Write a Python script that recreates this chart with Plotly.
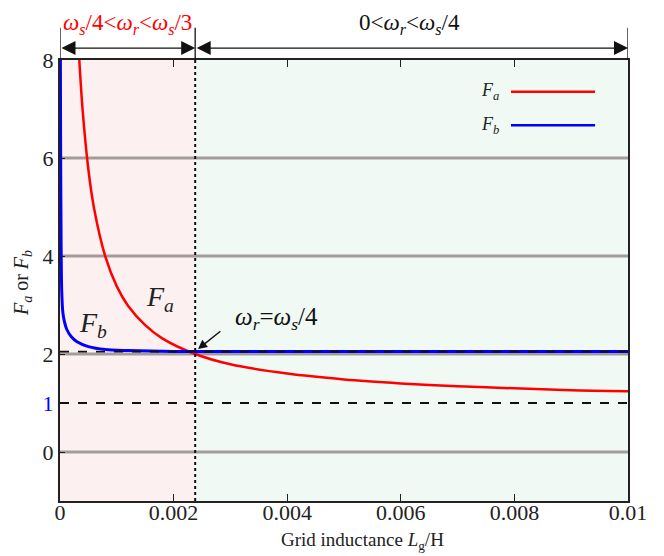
import plotly.graph_objects as go

# ---- data ----
L_a = [0.00033, 0.00035, 0.0004, 0.0005, 0.0006, 0.0008, 0.001, 0.0012, 0.0015, 0.0018,
       0.00238, 0.003, 0.004, 0.005, 0.006, 0.007, 0.008, 0.009, 0.01]
F_a = [8.2, 7.8, 6.95, 5.76, 4.97, 3.98, 3.38, 2.98, 2.59, 2.32,
       2.0, 1.79, 1.6, 1.48, 1.40, 1.34, 1.30, 1.26, 1.24]

L_b = [0.000005, 0.00001, 0.00002, 0.00003, 0.00005, 0.00008, 0.00012, 0.0002, 0.0003,
       0.0005, 0.0008, 0.0012, 0.002, 0.004, 0.01]
F_b = [9.0, 6.5, 4.2, 3.3, 2.85, 2.65, 2.5, 2.35, 2.25, 2.15, 2.09, 2.07, 2.05, 2.05, 2.05]

x_ticks = [0, 0.002, 0.004, 0.006, 0.008, 0.01]
x_ticklabels = ["0", "0.002", "0.004", "0.006", "0.008", "0.01"]
y_ticks = [0, 1, 2, 4, 6, 8]
y_ticklabels = ["0", "<span style='color:#0000ff'>1</span>", "2", "4", "6", "8"]
grid_levels = [0, 2, 4, 6]
L_boundary = 0.00238
ref_levels = [1, 2.05]
x_range = [0, 0.01]
y_range = [-1, 8]

SERIF = "Liberation Serif, Times New Roman, serif"

fig = go.Figure()
fig.add_trace(go.Scatter(x=L_a, y=F_a, mode="lines", line=dict(color="#ff0000", width=2.5, shape="spline", smoothing=0.8),
                         showlegend=False, cliponaxis=True))
fig.add_trace(go.Scatter(x=L_b, y=F_b, mode="lines", line=dict(color="#0000ff", width=3, shape="spline", smoothing=0.8),
                         showlegend=False, cliponaxis=True))

shapes = []
# region backgrounds
shapes.append(dict(type="rect", xref="x", yref="y", x0=x_range[0], x1=L_boundary, y0=y_range[0], y1=y_range[1],
                   fillcolor="#fdf0f0", line=dict(width=0), layer="below"))
shapes.append(dict(type="rect", xref="x", yref="y", x0=L_boundary, x1=x_range[1], y0=y_range[0], y1=y_range[1],
                   fillcolor="#f0f9f3", line=dict(width=0), layer="below"))
# horizontal gray grid lines
for g in grid_levels:
    shapes.append(dict(type="line", xref="x", yref="y", x0=x_range[0], x1=x_range[1], y0=g, y1=g,
                       line=dict(color="#a39c9c", width=3), layer="between"))
# dashed reference lines
for r in ref_levels:
    shapes.append(dict(type="line", xref="x", yref="y", x0=x_range[0], x1=x_range[1], y0=r, y1=r,
                       line=dict(color="#111111", width=1.8, dash="dash"), layer="above"))
# dotted boundary line
shapes.append(dict(type="line", xref="x", yref="y", x0=L_boundary, x1=L_boundary, y0=y_range[0], y1=y_range[1],
                   line=dict(color="#111111", width=2, dash="dot"), layer="above"))
# vertical bars above the plot
for xb in [x_range[0], L_boundary, x_range[1]]:
    shapes.append(dict(type="line", xref="x", yref="paper", x0=xb, x1=xb, y0=1.0, y1=1.073,
                       line=dict(color="#111111", width=1.3), layer="above"))
# legend samples
shapes.append(dict(type="line", xref="x", yref="y", x0=0.00794, x1=0.00942, y0=7.35, y1=7.35,
                   line=dict(color="#ff0000", width=2.5)))
shapes.append(dict(type="line", xref="x", yref="y", x0=0.00794, x1=0.00942, y0=6.67, y1=6.67,
                   line=dict(color="#0000ff", width=2.5)))

annotations = []
def txt(x, y, text, size, color="#222222", xref="x", yref="y", **kw):
    annotations.append(dict(x=x, y=y, xref=xref, yref=yref, showarrow=False, text=text,
                            xanchor="center", yanchor="middle",
                            font=dict(family=SERIF, size=size, color=color), **kw))

# double arrows on top
for a0, a1 in [(x_range[0], L_boundary), (L_boundary, x_range[1])]:
    annotations.append(dict(x=a1, y=1.027, xref="x", yref="paper", ax=a0, ay=0, axref="x", ayref="pixel",
                            text="", showarrow=True, arrowhead=2, arrowside="end+start", arrowsize=2,
                            arrowwidth=1.4, arrowcolor="#111111", standoff=0, startstandoff=0))
txt((x_range[0] + L_boundary) / 2, 1.082,
    "<i>ω<sub>s</sub></i>/4&lt;<i>ω<sub>r</sub></i>&lt;<i>ω<sub>s</sub></i>/3", 23, "#ff0000", yref="paper")
txt(0.00616, 1.082, "0&lt;<i>ω<sub>r</sub></i>&lt;<i>ω<sub>s</sub></i>/4", 23, "#111111", yref="paper")
# curve labels
txt(0.00176, 3.14, "<i>F<sub>a</sub></i>", 28)
txt(0.00058, 2.6, "<i>F<sub>b</sub></i>", 28)
txt(0.00382, 2.73, "<i>ω<sub>r</sub></i>=<i>ω<sub>s</sub></i>/4", 25, "#111111")
annotations.append(dict(x=0.00243, y=2.1, xref="x", yref="y", ax=0.00285, ay=2.49, axref="x", ayref="y",
                        text="", showarrow=True, arrowhead=2, arrowsize=1.3, arrowwidth=1.4, arrowcolor="#111111",
                        standoff=0))
# legend text
txt(0.00757, 7.35, "<i>F<sub>a</sub></i>", 18)
txt(0.00757, 6.67, "<i>F<sub>b</sub></i>", 18)
# axis titles
txt(-0.067, 0.494, "<i>F<sub>a</sub></i> or <i>F<sub>b</sub></i>", 20, xref="paper", yref="paper", textangle=-90)
txt(0.533, -0.09, "Grid inductance <i>L</i><sub>g</sub>/H", 19, xref="paper", yref="paper")

fig.update_layout(
    width=664, height=556,
    margin=dict(l=52, r=44, t=52, b=63),
    paper_bgcolor="white", plot_bgcolor="white",
    shapes=shapes, annotations=annotations,
    showlegend=False,
    xaxis=dict(range=x_range, tickvals=x_ticks, ticktext=x_ticklabels, showgrid=False, zeroline=False,
               showline=True, linewidth=2.2, linecolor="#222222", mirror="ticks",
               ticks="inside", ticklen=7, tickwidth=1.3, tickcolor="#222222", ticklabelstandoff=-10,
               tickfont=dict(family=SERIF, size=22, color="#222222")),
    yaxis=dict(range=y_range, tickvals=y_ticks, ticktext=y_ticklabels, showgrid=False, zeroline=False,
               showline=True, linewidth=2.2, linecolor="#222222", mirror=True,
               ticks="inside", ticklen=5, tickwidth=1.3, tickcolor="#222222",
               tickfont=dict(family=SERIF, size=22, color="#222222")),
)

fig.write_html("out.html")
